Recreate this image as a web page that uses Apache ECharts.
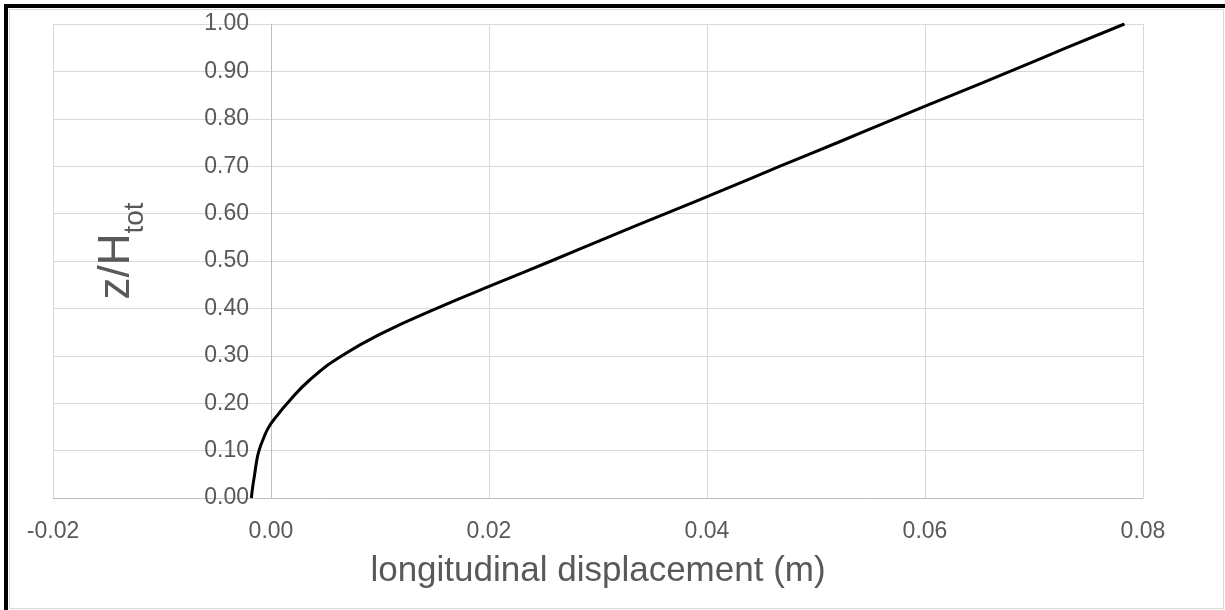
<!DOCTYPE html>
<html>
<head>
<meta charset="utf-8">
<script src="https://cdn.jsdelivr.net/npm/echarts@6/dist/echarts.min.js"></script>
<style>
  html, body { margin: 0; padding: 0; background: #fff; }
  #wrap { position: relative; width: 1225px; height: 610px; overflow: hidden; }
  #frame { position: absolute; left: 4px; top: 4px; width: 1221px; height: 606px;
    border-left: 4px solid #000; border-top: 4px solid #000; box-sizing: border-box; }
  #inner { position: absolute; left: 9px; top: 9px; width: 1215px; height: 600px;
    border: 1px solid #d9d9d9; box-sizing: border-box; }
  #chart { position: absolute; left: 0; top: 0; width: 1225px; height: 610px; }
</style>
</head>
<body>
<div id="wrap">
  <div id="frame"></div>
  <div id="inner"></div>
  <div id="chart"></div>
</div>
<script>
// longitudinal displacement (m) vs z/Htot
const displacement = [
  -0.0018, -0.0017, -0.0015, -0.0013, -0.0011, -0.0007, -0.0002, 0.0006, 0.0015,
  0.0036, 0.0065, 0.0104, 0.0152, 0.0204, 0.0257, 0.0309, 0.0362, 0.0415,
  0.0467, 0.0520, 0.0572, 0.0625, 0.0678, 0.0730, 0.0783
];
const height = [
  0.00, 0.02, 0.05, 0.08, 0.10, 0.125, 0.15, 0.175, 0.20,
  0.25, 0.30, 0.35, 0.40, 0.45, 0.50, 0.55, 0.60, 0.65,
  0.70, 0.75, 0.80, 0.85, 0.90, 0.95, 1.00
];
const xTicks = { min: -0.02, max: 0.08, step: 0.02 };
const yTicks = { min: 0, max: 1, step: 0.1 };

const points = displacement.map((v, i) => [v, height[i]]);
const font = '"Liberation Sans", Arial, sans-serif';

const gridLeft = 53;
const gridRight = 82;
const plotWidth = 1225 - gridLeft - gridRight;
// y axis sits at x = 0, move it there from the grid's left edge
const yAxisShift = (0 - xTicks.min) / (xTicks.max - xTicks.min) * plotWidth;

const myChart = echarts.init(document.getElementById("chart"));

const option = {
  backgroundColor: "transparent",
  animation: false,
  grid: {
    left: gridLeft,
    right: gridRight,
    top: 24,
    bottom: 112,
    containLabel: false,
    outerBoundsMode: "none",
  },
  xAxis: {
    type: "value",
    min: xTicks.min,
    max: xTicks.max,
    interval: xTicks.step,
    name: "longitudinal displacement (m)",
    nameLocation: "middle",
    nameGap: 56,
    nameTextStyle: {
      color: "#595959",
      fontSize: 35,
      fontFamily: font,
    },
    axisLine: {
      show: true,
      lineStyle: { color: "#bfbfbf", width: 1 },
    },
    axisTick: { show: false },
    axisLabel: {
      color: "#595959",
      fontSize: 23,
      fontFamily: font,
      margin: 22,
      formatter: (v) => v.toFixed(2),
    },
    splitLine: {
      show: true,
      lineStyle: { color: "#d9d9d9", width: 1 },
    },
  },
  yAxis: {
    type: "value",
    min: yTicks.min,
    max: yTicks.max,
    interval: yTicks.step,
    offset: -yAxisShift,
    name: "{a|z/H}{b|tot}",
    nameLocation: "middle",
    nameRotate: 90,
    nameGap: 132,
    nameTextStyle: {
      color: "#595959",
      fontFamily: font,
      padding: [0, 0, 0, 20],
      rich: {
        a: { fontSize: 44, lineHeight: 44, color: "#595959", fontFamily: font, verticalAlign: "top" },
        b: { fontSize: 28, lineHeight: 28, color: "#595959", fontFamily: font, padding: [26, 0, 0, 0], verticalAlign: "top" },
      },
    },
    axisLine: {
      show: true,
      onZero: false,
      lineStyle: { color: "#bfbfbf", width: 1 },
    },
    axisTick: { show: false },
    axisLabel: {
      color: "#595959",
      fontSize: 23,
      fontFamily: font,
      margin: 22,
      formatter: (v) => v.toFixed(2),
    },
    splitLine: {
      show: true,
      lineStyle: { color: "#d9d9d9", width: 1 },
    },
  },
  series: [
    {
      type: "line",
      data: points,
      smooth: true,
      showSymbol: false,
      lineStyle: { color: "#000", width: 3 },
    },
  ],
};

myChart.setOption(option, true);
</script>
</body>
</html>
